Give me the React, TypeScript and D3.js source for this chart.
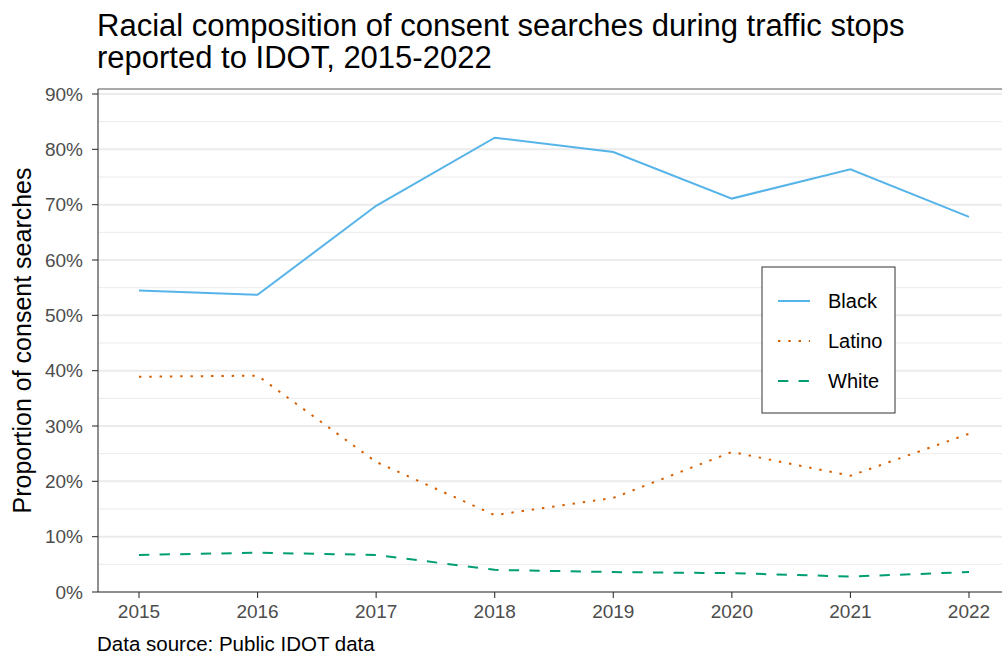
import React from "react";
import * as d3 from "d3";

const years = [2015, 2016, 2017, 2018, 2019, 2020, 2021, 2022];
const black = [0.545, 0.537, 0.698, 0.821, 0.795, 0.711, 0.764, 0.678];
const latino = [0.389, 0.391, 0.235, 0.139, 0.17, 0.253, 0.21, 0.286];
const white = [0.067, 0.071, 0.067, 0.04, 0.036, 0.034, 0.028, 0.036];
const yTicks = [0, 0.1, 0.2, 0.3, 0.4, 0.5, 0.6, 0.7, 0.8, 0.9];
const yMinor = [0.05, 0.15, 0.25, 0.35, 0.45, 0.55, 0.65, 0.75, 0.85];
const seriesNames = ["Black", "Latino", "White"];

const FONT = "'Liberation Sans', Arial, Helvetica, sans-serif";

export default function App() {
  const W = 1002, H = 654;
  const left = 98, top = 89, bottom = 592;
  const x = d3.scaleLinear().domain([2015, 2022]).range([139, 969]);
  const panelRight = x(2022) + (x(2022) - x(2015)) * 0.05;
  const y = d3.scaleLinear().domain([0, 0.9]).range([592, 94]);
  const line = d3.line<number>().x((_, i) => x(years[i])).y((d) => y(d));

  const series = [
    { name: seriesNames[0], vals: black, color: "#56B4E9", dash: null as string | null },
    { name: seriesNames[1], vals: latino, color: "#D55E00", dash: "2.4 7.9" },
    { name: seriesNames[2], vals: white, color: "#009E73", dash: "10.3 10.3" },
  ];

  return (
    <svg width={W} height={H} style={{ position: "absolute", left: 0, top: 0, background: "#fff" }} fontFamily={FONT}>
      <rect x={0} y={0} width={W} height={H} fill="#fff" />
      {/* title */}
      <text x={97} y={36} fontSize={31} fill="#000">Racial composition of consent searches during traffic stops</text>
      <text x={97} y={68} fontSize={31} fill="#000">reported to IDOT, 2015-2022</text>
      {/* grid */}
      {yMinor.map((t) => (
        <line key={"m" + t} x1={left} x2={panelRight} y1={y(t)} y2={y(t)} stroke="#ebebeb" strokeWidth={1} />
      ))}
      {yTicks.map((t) => (
        <line key={"g" + t} x1={left} x2={panelRight} y1={y(t)} y2={y(t)} stroke="#ebebeb" strokeWidth={2} />
      ))}
      {/* panel border top */}
      <line x1={left} x2={panelRight} y1={top} y2={top} stroke="#555" strokeWidth={1} />
      {/* axes */}
      <line x1={left} x2={left} y1={top} y2={bottom} stroke="#333" strokeWidth={1.1} />
      <line x1={left} x2={panelRight} y1={bottom} y2={bottom} stroke="#333" strokeWidth={1.1} />
      {yTicks.map((t) => (
        <g key={"yt" + t}>
          <line x1={left - 6} x2={left} y1={y(t)} y2={y(t)} stroke="#333" strokeWidth={1.1} />
          <text x={left - 15} y={y(t)} dy="0.35em" textAnchor="end" fontSize={19} fill="#4d4d4d">
            {d3.format(".0%")(t)}
          </text>
        </g>
      ))}
      {years.map((yr) => (
        <g key={"xt" + yr}>
          <line x1={x(yr)} x2={x(yr)} y1={bottom} y2={bottom + 6} stroke="#333" strokeWidth={1.1} />
          <text x={x(yr)} y={bottom + 26} textAnchor="middle" fontSize={19} fill="#4d4d4d">
            {yr}
          </text>
        </g>
      ))}
      {/* y title */}
      <text transform={`translate(31, ${(top + bottom) / 2}) rotate(-90)`} textAnchor="middle" fontSize={25} fill="#000">
        Proportion of consent searches
      </text>
      {/* lines */}
      {series.map((s) => (
        <path key={s.name} d={line(s.vals) || ""} fill="none" stroke={s.color} strokeWidth={2}
          strokeDasharray={s.dash || undefined} />
      ))}
      {/* legend */}
      <rect x={762} y={267} width={133} height={146} fill="#fff" stroke="#333" strokeWidth={1} />
      {series.map((s, i) => (
        <g key={"lg" + s.name}>
          <line x1={778} x2={810} y1={301 + i * 40} y2={301 + i * 40} stroke={s.color} strokeWidth={2}
            strokeDasharray={s.dash || undefined} />
          <text x={828} y={301 + i * 40} dy="0.35em" fontSize={20} fill="#000">{s.name}</text>
        </g>
      ))}
      {/* caption */}
      <text x={97} y={651} fontSize={20.5} fill="#000">Data source: Public IDOT data</text>
    </svg>
  );
}
